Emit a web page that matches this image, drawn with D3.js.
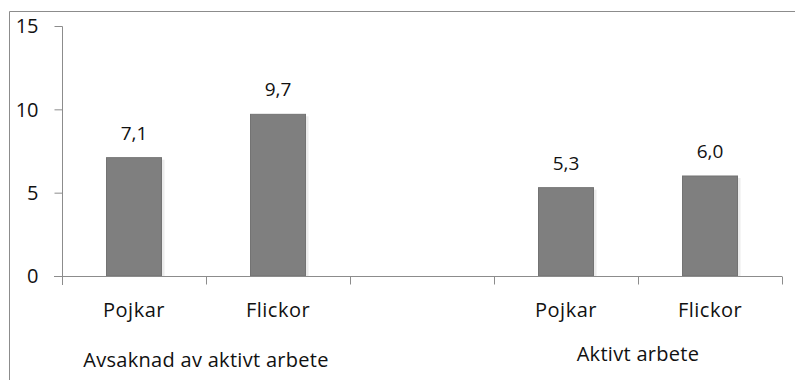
<!DOCTYPE html>
<html lang="sv">
<head>
<meta charset="utf-8" />
<title>Pojkar och flickor</title>
<script src="https://d3js.org/d3.v7.min.js"></script>
<style>
  body { margin: 0; background: #fff; }
  text { font-family: "Open Sans", "DejaVu Sans", sans-serif; fill: #111; }
</style>
</head>
<body>
<script>
// data
var slots = ["p1", "f1", "gap", "p2", "f2"];
var slotLabels = ["Pojkar", "Flickor", "", "Pojkar", "Flickor"];
var values = [7.1, 9.7, null, 5.3, 6.0];
var groups = ["Avsaknad av aktivt arbete", "Aktivt arbete"];
var groupSlots = [["p1", "f1"], ["p2", "f2"]];
var yTicks = [0, 5, 10, 15];

var W = 795, H = 380;
var svg = d3.select("body").append("svg").attr("width", W).attr("height", H);

// outer frame (top and left only visible)
svg.append("path")
  .attr("d", "M9.5," + H + "V11.5H" + W)
  .attr("fill", "none").attr("stroke", "#8c8c8c");

var x = d3.scaleBand().domain(slots).range([62, 782]).paddingInner(0).paddingOuter(0);
var y = d3.scaleLinear().domain([0, 15]).range([276, 26]);

var g = svg.append("g");

// y axis
var yAxis = d3.axisLeft(y).tickValues(yTicks).tickSize(8).tickFormat(d3.format("d"));
var ya = g.append("g").attr("transform", "translate(62.5,0)").call(yAxis);
ya.select(".domain").attr("d", "M0," + (y(15) + 0.5) + "V285").attr("stroke", "#8c8c8c");
ya.selectAll(".tick line").attr("stroke", "#8c8c8c");
ya.selectAll(".tick text").attr("font-size", 20).attr("fill", "#111")
  .attr("font-family", "'Open Sans', sans-serif")
  .attr("x", -24).attr("dy", "0.34em").style("text-anchor", "end");

// bars (shadow + bar)
var bars = g.selectAll(".bar").data(slots.filter(function (s, i) { return values[i] != null; }))
  .enter().append("g").attr("class", "bar");
var bw = 55;
function bx(s) { return x(s) + x.bandwidth() / 2 - bw / 2; }
function val(s) { return values[slots.indexOf(s)]; }

bars.append("rect")
  .attr("x", function (s) { return bx(s) + 2; })
  .attr("y", function (s) { return y(val(s)) + 2; })
  .attr("width", bw + 1)
  .attr("height", function (s) { return y(0) - y(val(s)) - 2; })
  .attr("fill", "#ececec");
bars.append("rect")
  .attr("x", function (s) { return bx(s); })
  .attr("y", function (s) { return y(val(s)); })
  .attr("width", bw)
  .attr("height", function (s) { return y(0) - y(val(s)); })
  .attr("fill", "#7f7f7f").attr("stroke", "#737373").attr("stroke-width", 1);

bars.append("text")
  .attr("x", function (s) { return x(s) + x.bandwidth() / 2; })
  .attr("y", function (s) { return y(val(s)) - 18; })
  .attr("text-anchor", "middle").attr("font-size", 19)
  .text(function (s) { return d3.format(".1f")(val(s)).replace(".", ","); });

// x axis
var xa = g.append("g").attr("transform", "translate(0,276.5)");
xa.append("line").attr("x1", 54).attr("x2", 782).attr("stroke", "#8c8c8c");
var edges = slots.map(function (s) { return x(s); }).concat([x.range()[1]]);
xa.selectAll(".xt").data(edges).enter().append("line")
  .attr("x1", function (d) { return Math.round(d) + 0.5; })
  .attr("x2", function (d) { return Math.round(d) + 0.5; })
  .attr("y1", 0).attr("y2", 8).attr("stroke", "#8c8c8c");
xa.selectAll(".xl").data(slots).enter().append("text")
  .attr("x", function (s) { return x(s) + x.bandwidth() / 2; })
  .attr("y", 40).attr("text-anchor", "middle").attr("font-size", 20)
  .attr("letter-spacing", 0.5)
  .text(function (s, i) { return slotLabels[i]; });

// group labels
g.selectAll(".grp").data(groups).enter().append("text")
  .attr("x", function (d, i) {
    var a = groupSlots[i][0], b = groupSlots[i][1];
    return (x(a) + x(b) + x.bandwidth()) / 2;
  })
  .attr("y", function (d, i) { return i === 0 ? 367 : 361; })
  .attr("text-anchor", "middle").attr("font-size", 20)
  .attr("letter-spacing", 0.3)
  .text(function (d) { return d; });
</script>
</body>
</html>
